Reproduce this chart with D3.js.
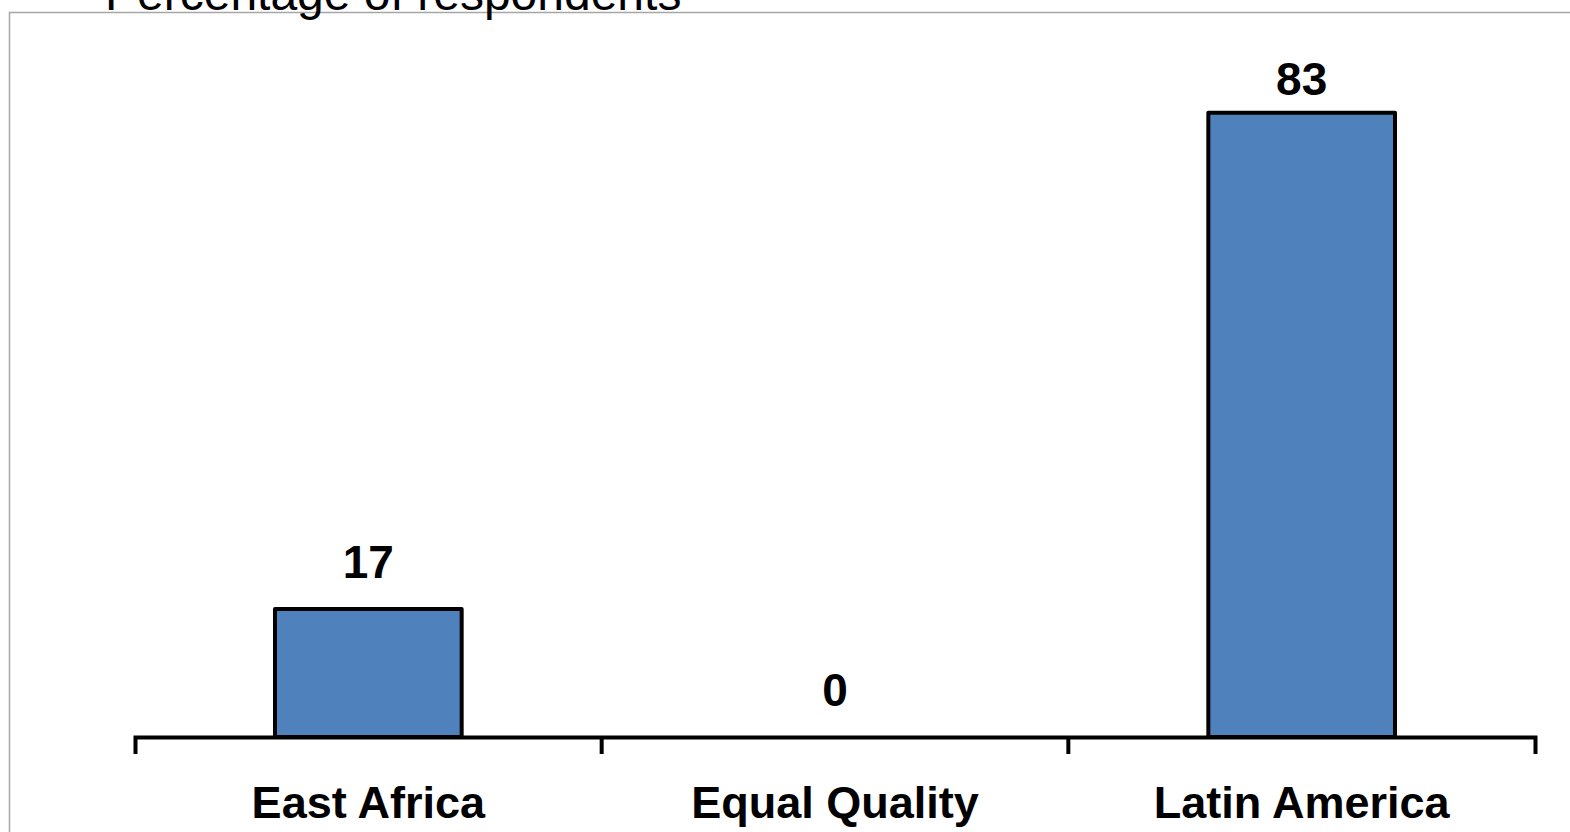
<!DOCTYPE html>
<html>
<head>
<meta charset="utf-8">
<script src="https://cdn.jsdelivr.net/npm/d3@7"></script>
<style>
  html, body { margin: 0; padding: 0; background: #fff; overflow: hidden; }
  svg { display: block; }
</style>
</head>
<body>
<svg id="chart" width="1570" height="832"></svg>
<script>
// Preferred origin of quality coffee, share of respondents
const categories = ["East Africa", "Equal Quality", "Latin America"];
const values = [17, 0, 83];
const titleText = "Percentage of respondents";

const W = 1570, H = 832;
const svg = d3.select("#chart");

// outer frame of the chart area
svg.append("path")
  .attr("d", `M9.5,${H}V12.5H${W}`)
  .attr("fill", "none")
  .attr("stroke", "#a6a6a6")
  .attr("stroke-width", 1.5);

svg.append("text")
  .attr("x", 105)
  .attr("y", 10)
  .attr("font-family", "Liberation Sans, Arial, sans-serif")
  .attr("font-size", 48)
  .attr("fill", "#000")
  .text(titleText);

const plotTop = 60, baseY = 737;
const x = d3.scaleBand().domain(categories).range([135, 1535]).paddingInner(0.6).paddingOuter(0.3);
const y = d3.scaleLinear().domain([0, 90]).range([baseY, plotTop]);

// bars
svg.append("g").selectAll("rect")
  .data(values.map((v, i) => ({ c: categories[i], v })))
  .join("rect")
  .attr("x", d => x(d.c))
  .attr("y", d => y(d.v))
  .attr("width", x.bandwidth())
  .attr("height", d => y(0) - y(d.v))
  .attr("fill", "#4f81bd")
  .attr("stroke", "#000")
  .attr("stroke-width", 4)
  .attr("stroke-linejoin", "round");

// value labels, kept inside the plot area
svg.append("g").selectAll("text")
  .data(values.map((v, i) => ({ c: categories[i], v })))
  .join("text")
  .attr("x", d => x(d.c) + x.bandwidth() / 2)
  .attr("y", d => Math.max(y(d.v) - 31, plotTop + 35))
  .attr("text-anchor", "middle")
  .attr("font-family", "Liberation Sans, Arial, sans-serif")
  .attr("font-weight", "bold")
  .attr("font-size", 46)
  .attr("fill", "#000")
  .text(d => d.v);

// category axis
const axis = d3.axisBottom(x).tickSize(0).tickSizeOuter(17).tickPadding(0);
const gx = svg.append("g").attr("transform", `translate(0,${baseY})`).call(axis);
gx.select(".domain").attr("stroke", "#000").attr("stroke-width", 4).attr("fill", "none");
gx.selectAll(".tick text")
  .attr("y", 81)
  .attr("dy", null)
  .attr("font-family", "Liberation Sans, Arial, sans-serif")
  .attr("font-weight", "bold")
  .attr("font-size", 45)
  .attr("fill", "#000");

// boundary ticks between categories
const r = x.range(), step = x.step();
const inner = d3.range(1, categories.length).map(i => r[0] + (r[1] - r[0]) * i / categories.length);
gx.selectAll("line.sep")
  .data(inner)
  .join("line")
  .attr("class", "sep")
  .attr("x1", d => d).attr("x2", d => d)
  .attr("y1", 0).attr("y2", 17)
  .attr("stroke", "#000")
  .attr("stroke-width", 4);
</script>
</body>
</html>
